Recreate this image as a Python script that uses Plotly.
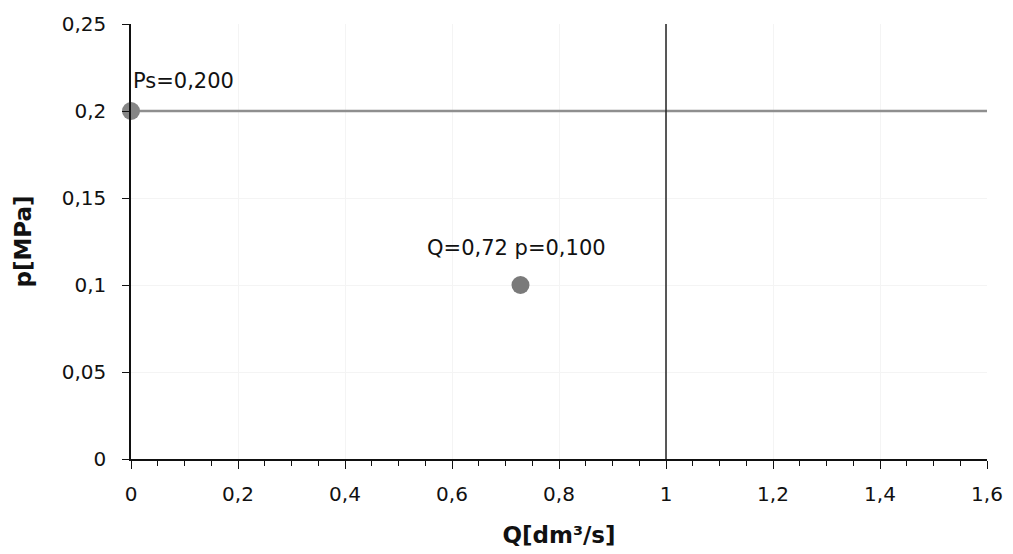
import plotly.graph_objects as go

# data
ps_q = [0.0]
ps_p = [0.2]
ps_label = "Ps=0,200"
op_q = [0.728]
op_p = [0.1]
op_label = "Q=0,72 p=0,100"
line_p = 0.2
line_q = 1.0
x_range = [0, 1.6]
y_range = [0, 0.25]

fig = go.Figure()
fig.add_trace(go.Scatter(x=[x_range[0], x_range[1]], y=[line_p, line_p], mode="lines",
                         line=dict(color="#8f8f8f", width=2.5), hoverinfo="skip", cliponaxis=False))
fig.add_trace(go.Scatter(x=[line_q, line_q], y=[y_range[0], y_range[1]], mode="lines",
                         line=dict(color="#222222", width=1.5), hoverinfo="skip", cliponaxis=False))
fig.add_trace(go.Scatter(x=ps_q, y=ps_p, mode="markers",
                         marker=dict(size=18, color="#858585"), cliponaxis=False))
fig.add_trace(go.Scatter(x=op_q, y=op_p, mode="markers",
                         marker=dict(size=18, color="#7a7a7a"), cliponaxis=False))
fig.add_annotation(x=ps_q[0], y=ps_p[0], text=ps_label, showarrow=False,
                   xanchor="left", yanchor="middle", xshift=0, yshift=30,
                   font=dict(size=21, color="#111"))
fig.add_annotation(x=op_q[0], y=op_p[0], text=op_label, showarrow=False,
                   xanchor="center", yanchor="middle", xshift=-4, yshift=37,
                   font=dict(size=21, color="#111"))

fig.update_layout(
    width=1013, height=554,
    margin=dict(l=131, r=10, t=24, b=87),
    paper_bgcolor="white", plot_bgcolor="white",
    showlegend=False,
    separators=", ",
    font=dict(family="DejaVu Sans", size=20, color="#111"),
)
fig.update_xaxes(range=x_range, dtick=0.2, showgrid=True, gridcolor="#f4f4f4",
                 showline=True, linecolor="#111", linewidth=1.5,
                 ticks="outside", ticklen=8, tickcolor="#111",
                 ticklabelstandoff=8, tickfont=dict(size=20), ticklabeloverflow="allow",
                 minor=dict(dtick=0.05, ticks="outside", ticklen=5, tickcolor="#111", showgrid=False),
                 zeroline=False,
                 title=dict(text="<b>Q[dm³/s]</b>", font=dict(size=23), standoff=22))
fig.update_yaxes(range=y_range, dtick=0.05, showgrid=True, gridcolor="#f4f4f4",
                 showline=True, linecolor="#111", linewidth=1.5,
                 ticks="outside", ticklen=7, tickcolor="#111",
                 ticklabelstandoff=12, tickfont=dict(size=20), ticklabeloverflow="allow",
                 zeroline=False,
                 title=dict(text="<b>p[MPa]</b>", font=dict(size=23), standoff=24))

fig.write_html("out.html", config={"displayModeBar": False},
               post_script="document.body.style.margin='0';"
                           "document.body.style.overflow='hidden';"
                           "document.documentElement.style.overflow='hidden';")
